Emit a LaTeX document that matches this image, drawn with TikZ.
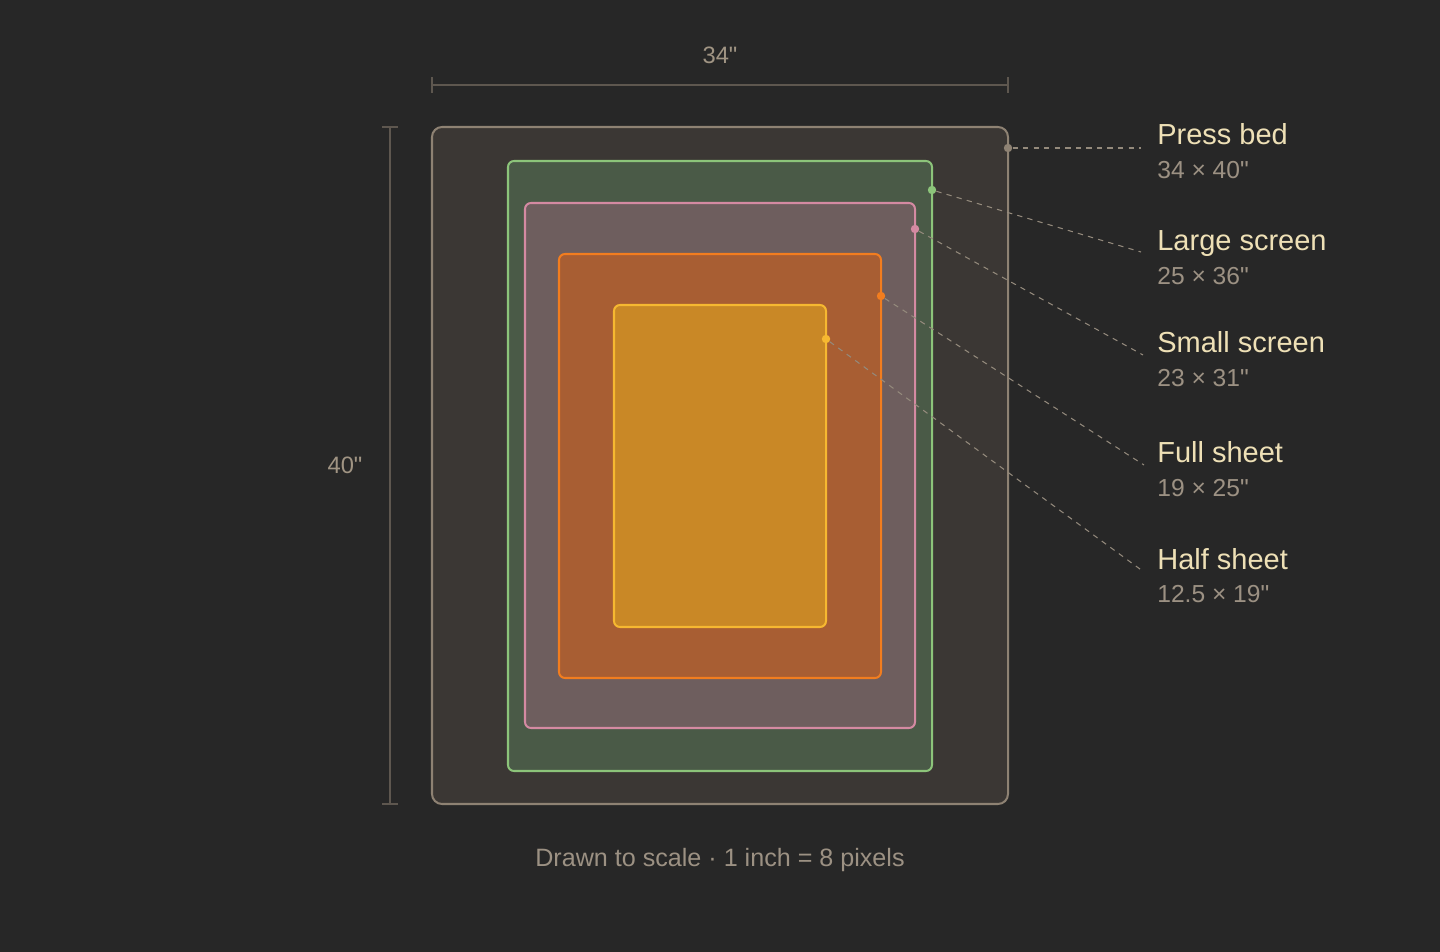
\documentclass[tikz,border=0pt]{standalone}
\usepackage{fontspec}
\setmainfont{Liberation Sans}
\usetikzlibrary{positioning}
\definecolor{bg}{HTML}{272727}
\definecolor{dimline}{HTML}{5E574F}
\definecolor{dimtext}{HTML}{A09483}
\definecolor{titletext}{HTML}{EEE0B6}
\definecolor{subtext}{HTML}{9C9183}
\definecolor{leader}{HTML}{948A7C}
\definecolor{pressfill}{HTML}{3B3734}
\definecolor{pressdraw}{HTML}{8E8273}
\definecolor{largefill}{HTML}{4A5A47}
\definecolor{largedraw}{HTML}{8CC47A}
\definecolor{smallfill}{HTML}{6E5E5E}
\definecolor{smalldraw}{HTML}{D48AA2}
\definecolor{fullfill}{HTML}{A85E33}
\definecolor{fulldraw}{HTML}{F27D1F}
\definecolor{halffill}{HTML}{C98826}
\definecolor{halfdraw}{HTML}{F6B831}
\newcommand{\inch}{\textquotedbl}
\tikzset{sheet/.style = {line width=1.15pt, rounded corners=3.4pt}}

\begin{document}
\begin{tikzpicture}[x=0.02cm,y=-0.02cm,
    dim/.style={draw=dimline,line width=0.8pt},
    dimlabel/.style={text=dimtext,font=\fontsize{13.5}{16}\selectfont},
    title/.style={text=titletext,anchor=base west,inner sep=0pt,font=\fontsize{16.5}{19}\selectfont},
    sub/.style={text=subtext,inner sep=0pt,font=\fontsize{14}{17}\selectfont},
    leaderline/.style={draw=leader,line width=0.6pt,dash pattern=on 3pt off 3pt},
    dot/.style={circle,inner sep=0pt,minimum size=4.8pt}]
    \fill[bg] (0,0) rectangle (1440,952);

    % sheets, largest first
    \draw[sheet,fill=pressfill,draw=pressdraw,rounded corners=5.7pt] (432,127) rectangle (1008,804);
    \draw[sheet,fill=largefill,draw=largedraw] (508,161) rectangle (932,771);
    \draw[sheet,fill=smallfill,draw=smalldraw] (525,203) rectangle (915,728);
    \draw[sheet,fill=fullfill,draw=fulldraw] (559,254) rectangle (881,678);
    \draw[sheet,fill=halffill,draw=halfdraw] (614,305) rectangle (826,627);

    % dimensions
    \coordinate (wl) at (432,85);
    \coordinate (wr) at (1008,85);
    \coordinate (ht) at (390,127);
    \coordinate (hb) at (390,804);
    \draw[dim] (wl) -- (wr);
    \draw[dim] ([yshift=-4.5pt]wl) -- ([yshift=4.5pt]wl);
    \draw[dim] ([yshift=-4.5pt]wr) -- ([yshift=4.5pt]wr);
    \draw[dim] (ht) -- (hb);
    \draw[dim] ([xshift=-4.5pt]ht) -- ([xshift=4.5pt]ht);
    \draw[dim] ([xshift=-4.5pt]hb) -- ([xshift=4.5pt]hb);
    \node[dimlabel] (wlabel) at (720,55) {34\inch};
    \node[dimlabel] (hlabel) at (345,465) {40\inch};

    % labels
    \node[title] (press) at (1157,145) {Press bed};
    \node[sub] (presssub) [below=19.3pt of press.base west,anchor=base west] {34 × 40\inch};
    \node[title] (large) at (1157,251) {Large screen};
    \node[sub] (largesub) [below=19.3pt of large.base west,anchor=base west] {25 × 36\inch};
    \node[title] (small) at (1157,353) {Small screen};
    \node[sub] (smallsub) [below=19.3pt of small.base west,anchor=base west] {23 × 31\inch};
    \node[title] (full) at (1157,463) {Full sheet};
    \node[sub] (fullsub) [below=19.3pt of full.base west,anchor=base west] {19 × 25\inch};
    \node[title] (half) at (1157,569) {Half sheet};
    \node[sub] (halfsub) [below=19.3pt of half.base west,anchor=base west] {12.5 × 19\inch};

    % leader lines
    \node[dot,fill=pressdraw] (pressdot) at (1008,148) {};
    \node[dot,fill=largedraw] (largedot) at (932,190) {};
    \node[dot,fill=smalldraw] (smalldot) at (915,229) {};
    \node[dot,fill=fulldraw] (fulldot) at (881,296) {};
    \node[dot,fill=halfdraw] (halfdot) at (826,339) {};
    \coordinate (pressend) at (1141,148);
    \coordinate (largeend) at (1141,252);
    \coordinate (smallend) at (1143,355);
    \coordinate (fullend) at (1144,465);
    \coordinate (halfend) at (1144,572);
    \path[leaderline]
        (pressdot) edge (pressend)
        (largedot) edge (largeend)
        (smalldot) edge (smallend)
        (fulldot) edge (fullend)
        (halfdot) edge (halfend);

    \node[text=subtext,font=\fontsize{14.3}{17}\selectfont] (footer) at (720,860) {Drawn to scale · 1 inch = 8 pixels};
\end{tikzpicture}
\end{document}
